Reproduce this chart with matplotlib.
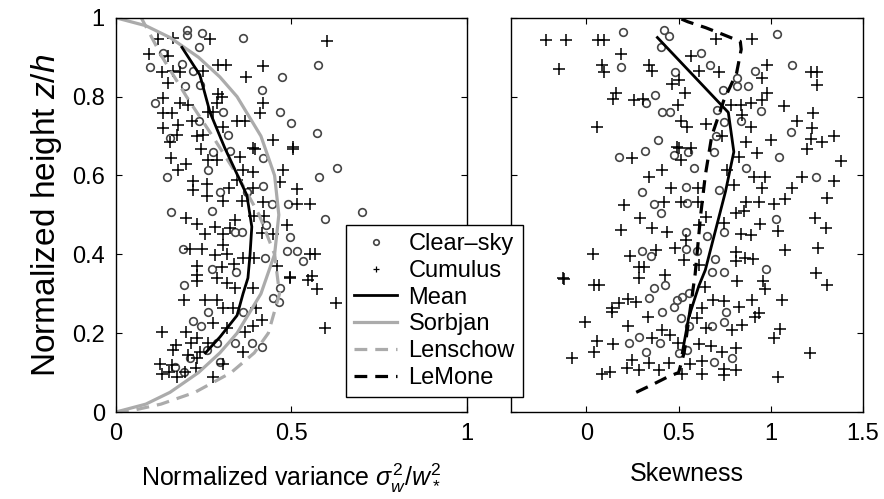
import matplotlib
matplotlib.use("Agg")
from matplotlib import pyplot as plt
from matplotlib.lines import Line2D

plt.rcParams['font.family'] = ['Liberation Sans', 'DejaVu Sans']
plt.rcParams['mathtext.fontset'] = 'custom'
plt.rcParams['mathtext.rm'] = 'Liberation Sans'
plt.rcParams['mathtext.it'] = 'Liberation Sans:italic'
plt.rcParams['font.size'] = 17

# normalized vertical velocity variance vs z/h
clear_var = [0.201, 0.201, 0.244, 0.363, 0.237, 0.135, 0.097, 0.187, 0.220, 0.576,
             0.474, 0.239, 0.197, 0.417, 0.111, 0.467, 0.306, 0.236, 0.500, 0.320,
             0.572, 0.154, 0.277, 0.325, 0.146, 0.263, 0.631, 0.578, 0.420, 0.418,
             0.296, 0.372, 0.444, 0.491, 0.156, 0.273, 0.595, 0.700, 0.427, 0.339,
             0.358, 0.496, 0.192, 0.515, 0.486, 0.425, 0.534, 0.273, 0.342, 0.194,
             0.263, 0.220, 0.241, 0.467, 0.465, 0.448, 0.361, 0.260, 0.287, 0.339,
             0.387, 0.415, 0.211, 0.168, 0.194, 0.296]
clear_var_z = [0.970, 0.957, 0.961, 0.950, 0.926, 0.910, 0.876, 0.882, 0.865, 0.881,
               0.849, 0.830, 0.826, 0.816, 0.784, 0.762, 0.762, 0.739, 0.734, 0.703,
               0.707, 0.695, 0.659, 0.661, 0.597, 0.614, 0.620, 0.597, 0.644, 0.573,
               0.559, 0.559, 0.527, 0.527, 0.507, 0.510, 0.490, 0.508, 0.475, 0.456,
               0.456, 0.445, 0.414, 0.409, 0.409, 0.390, 0.382, 0.363, 0.355, 0.321,
               0.253, 0.231, 0.217, 0.314, 0.280, 0.289, 0.253, 0.157, 0.174, 0.174,
               0.174, 0.166, 0.136, 0.115, 0.101, 0.126]

cum_var = [0.121, 0.163, 0.268, 0.600, 0.095, 0.149, 0.130, 0.163, 0.182, 0.291,
           0.313, 0.420, 0.370, 0.149, 0.249, 0.291, 0.301, 0.135, 0.420, 0.182,
           0.206, 0.287, 0.410, 0.135, 0.159, 0.263, 0.277, 0.178, 0.216, 0.135,
           0.344, 0.367, 0.306, 0.173, 0.230, 0.249, 0.446, 0.154, 0.503, 0.391,
           0.156, 0.199, 0.178, 0.263, 0.287, 0.242, 0.396, 0.503, 0.353, 0.477,
           0.391, 0.363, 0.220, 0.258, 0.323, 0.344, 0.467, 0.515, 0.220, 0.258,
           0.306, 0.358, 0.391, 0.420, 0.515, 0.554, 0.199, 0.232, 0.339, 0.393,
           0.422, 0.254, 0.282, 0.306, 0.325, 0.415, 0.448, 0.486, 0.211, 0.244,
           0.306, 0.282, 0.317, 0.361, 0.393, 0.553, 0.567, 0.232, 0.301, 0.336,
           0.458, 0.496, 0.558, 0.230, 0.230, 0.287, 0.315, 0.339, 0.391, 0.496,
           0.548, 0.572, 0.627, 0.595, 0.194, 0.254, 0.287, 0.306, 0.334, 0.400,
           0.415, 0.391, 0.130, 0.199, 0.232, 0.277, 0.315, 0.367, 0.171, 0.213,
           0.163, 0.263, 0.361, 0.206, 0.232, 0.125, 0.159, 0.228, 0.306, 0.130,
           0.152, 0.173, 0.197, 0.277, 0.239]
cum_var_z = [0.946, 0.948, 0.947, 0.941, 0.909, 0.902, 0.862, 0.865, 0.862, 0.880,
             0.880, 0.877, 0.849, 0.834, 0.865, 0.808, 0.800, 0.796, 0.784, 0.784,
             0.779, 0.784, 0.758, 0.758, 0.758, 0.762, 0.762, 0.728, 0.737, 0.720,
             0.739, 0.739, 0.724, 0.703, 0.699, 0.703, 0.690, 0.686, 0.673, 0.671,
             0.644, 0.629, 0.614, 0.640, 0.640, 0.668, 0.668, 0.668, 0.646, 0.614,
             0.608, 0.614, 0.586, 0.578, 0.569, 0.589, 0.583, 0.566, 0.563, 0.547,
             0.535, 0.535, 0.569, 0.534, 0.527, 0.527, 0.493, 0.476, 0.487, 0.498,
             0.498, 0.451, 0.470, 0.451, 0.468, 0.453, 0.451, 0.475, 0.414, 0.414,
             0.424, 0.398, 0.400, 0.390, 0.390, 0.400, 0.400, 0.370, 0.367, 0.375,
             0.370, 0.343, 0.346, 0.348, 0.332, 0.339, 0.327, 0.314, 0.314, 0.339,
             0.335, 0.312, 0.276, 0.214, 0.284, 0.284, 0.284, 0.263, 0.263, 0.263,
             0.234, 0.217, 0.204, 0.204, 0.187, 0.225, 0.212, 0.202, 0.170, 0.174,
             0.157, 0.174, 0.151, 0.145, 0.138, 0.121, 0.119, 0.112, 0.121, 0.096,
             0.102, 0.090, 0.102, 0.090, 0.153]

# mean and reference profiles of variance
mean_var = [0.255, 0.296, 0.345, 0.362, 0.376, 0.382, 0.387, 0.373, 0.310, 0.268, 0.239, 0.188]
mean_var_z = [0.150, 0.190, 0.245, 0.300, 0.340, 0.400, 0.470, 0.550, 0.670, 0.760, 0.855, 0.925]

sorbjan_z = [0.0, 0.02, 0.05, 0.10, 0.15, 0.20, 0.30, 0.40, 0.50, 0.60, 0.70, 0.80, 0.85, 0.90, 0.95, 0.98, 1.0]
sorbjan = [0.0, 0.085, 0.154, 0.235, 0.296, 0.345, 0.413, 0.452, 0.464, 0.452, 0.413, 0.345, 0.296, 0.235, 0.154, 0.085, 0.0]

lenschow_z = [0.0, 0.005, 0.02, 0.05, 0.10, 0.15, 0.20, 0.30, 0.40, 0.50, 0.60, 0.70, 0.80, 0.90, 1.0]
lenschow = [0.0, 0.052, 0.128, 0.225, 0.328, 0.394, 0.434, 0.466, 0.452, 0.408, 0.346, 0.275, 0.201, 0.132, 0.072]

# skewness vs z/h
clear_skw = [0.197, 0.420, 0.447, 0.402, 1.036, 0.623, 0.188, 0.480, 0.668, 0.915,
             1.118, 0.815, 0.879, 0.819, 0.741, 0.371, 0.321, 0.411, 0.451, 0.710,
             0.946, 0.746, 0.837, 0.705, 1.109, 0.390, 0.179, 0.317, 0.475, 0.553,
             0.692, 0.583, 0.864, 1.045, 1.245, 0.299, 0.538, 0.719, 0.366, 0.402,
             0.547, 1.031, 0.538, 0.656, 0.746, 0.303, 0.348, 0.538, 0.602, 0.697,
             0.973, 0.683, 0.746, 0.366, 0.426, 0.339, 0.493, 0.520, 0.556, 0.475,
             0.408, 0.511, 0.755, 0.746, 0.683, 0.556, 0.284, 0.230, 0.397, 0.321,
             0.502, 0.547, 0.692, 0.788]
clear_skw_z = [0.965, 0.970, 0.955, 0.925, 0.959, 0.912, 0.876, 0.862, 0.881, 0.865,
               0.881, 0.847, 0.826, 0.826, 0.817, 0.805, 0.784, 0.761, 0.762, 0.767,
               0.764, 0.735, 0.739, 0.701, 0.710, 0.690, 0.646, 0.661, 0.651, 0.659,
               0.659, 0.620, 0.620, 0.646, 0.597, 0.559, 0.572, 0.563, 0.527, 0.504,
               0.530, 0.490, 0.456, 0.447, 0.456, 0.409, 0.397, 0.414, 0.409, 0.388,
               0.363, 0.356, 0.355, 0.315, 0.321, 0.290, 0.284, 0.293, 0.301, 0.267,
               0.253, 0.239, 0.253, 0.229, 0.217, 0.217, 0.191, 0.174, 0.174, 0.151,
               0.149, 0.157, 0.126, 0.136]

cum_skw = [-0.219, -0.109, 0.061, 0.094, 0.705, 0.900, 0.185, 0.565, -0.150, 0.085,
           0.094, 0.342, 0.357, 0.610, 0.719, 0.982, 0.951, 1.217, 1.254, 1.254,
           0.502, 0.466, 0.533, 0.158, 0.143, 0.257, 0.306, 0.496, 0.982, 0.955,
           1.072, 1.230, 0.058, 0.511, 0.547, 0.647, 0.783, 0.837, 0.891, 0.846,
           0.891, 1.145, 1.223, 1.000, 1.217, 1.281, 1.344, 0.737, 0.864, 0.502,
           0.565, 0.245, 0.511, 0.493, 0.828, 0.928, 1.199, 1.380, 0.411, 0.339,
           0.765, 0.909, 0.969, 1.168, 1.344, 0.457, 0.607, 0.801, 0.951, 1.118,
           0.203, 0.420, 0.511, 0.607, 0.864, 0.936, 1.018, 1.078, 1.308, 0.293,
           0.647, 0.810, 0.855, 1.241, 0.185, 0.353, 0.438, 0.610, 0.746, 0.940,
           1.042, 1.303, 0.837, 0.891, 0.538, 0.034, 0.234, 0.379, 0.480, 0.529,
           0.810, 0.860, 0.904, 1.078, 1.259, -0.129, 0.284, 0.311, 0.426, 0.610,
           0.810, 1.248, -0.123, 0.040, 0.067, 0.284, 0.643, 0.819, 0.958, 0.969,
           1.308, 0.136, 0.136, 0.176, 0.226, 0.270, 0.629, 0.686, 0.746, 0.828,
           0.900, 1.060, 0.936, 0.915, -0.009, 0.226, 0.335, 0.602, 0.647, 0.792,
           0.842, 1.049, 1.018, 0.411, 0.451, 0.357, 0.058, 0.143, 0.040, 0.498,
           0.610, 0.674, 0.737, 0.810, -0.078, 0.248, 0.342, 0.447, 0.560, 0.625,
           1.212, 0.221, 0.284, 0.393, 0.629, 0.746, 0.810, 0.085, 0.125, 0.520,
           1.042, 0.746]
cum_skw_z = [0.944, 0.944, 0.944, 0.944, 0.947, 0.947, 0.908, 0.902, 0.871, 0.881,
             0.862, 0.881, 0.865, 0.865, 0.862, 0.880, 0.847, 0.862, 0.862, 0.830,
             0.843, 0.832, 0.809, 0.809, 0.794, 0.792, 0.794, 0.779, 0.809, 0.792,
             0.777, 0.758, 0.722, 0.739, 0.722, 0.730, 0.779, 0.779, 0.784, 0.754,
             0.724, 0.739, 0.720, 0.690, 0.693, 0.686, 0.699, 0.699, 0.686, 0.671,
             0.671, 0.644, 0.640, 0.673, 0.648, 0.657, 0.668, 0.637, 0.614, 0.597,
             0.614, 0.597, 0.597, 0.597, 0.586, 0.568, 0.569, 0.576, 0.568, 0.568,
             0.524, 0.532, 0.534, 0.534, 0.532, 0.532, 0.527, 0.541, 0.542, 0.492,
             0.494, 0.504, 0.511, 0.492, 0.462, 0.468, 0.456, 0.475, 0.479, 0.476,
             0.458, 0.468, 0.451, 0.449, 0.437, 0.400, 0.397, 0.411, 0.417, 0.386,
             0.405, 0.390, 0.388, 0.411, 0.415, 0.339, 0.369, 0.369, 0.348, 0.373,
             0.382, 0.352, 0.338, 0.322, 0.322, 0.341, 0.318, 0.332, 0.332, 0.312,
             0.322, 0.263, 0.253, 0.276, 0.287, 0.280, 0.263, 0.284, 0.282, 0.267,
             0.284, 0.284, 0.250, 0.242, 0.229, 0.219, 0.242, 0.238, 0.212, 0.208,
             0.221, 0.211, 0.187, 0.208, 0.195, 0.189, 0.179, 0.172, 0.153, 0.174,
             0.172, 0.168, 0.153, 0.162, 0.136, 0.132, 0.124, 0.124, 0.121, 0.129,
             0.149, 0.111, 0.107, 0.107, 0.096, 0.109, 0.107, 0.096, 0.102, 0.096,
             0.090, 0.094]

mean_skw = [0.520, 0.555, 0.610, 0.645, 0.700, 0.755, 0.800, 0.770, 0.385]
mean_skw_z = [0.150, 0.240, 0.320, 0.360, 0.460, 0.560, 0.660, 0.760, 0.950]

lemone = [0.27, 0.36, 0.445, 0.50, 0.53, 0.56, 0.59, 0.62, 0.645, 0.68, 0.745, 0.815, 0.84, 0.835, 0.745, 0.647, 0.55, 0.50]
lemone_z = [0.05, 0.07, 0.09, 0.10, 0.15, 0.25, 0.35, 0.50, 0.60, 0.70, 0.79, 0.86, 0.92, 0.94, 0.957, 0.975, 0.99, 1.0]

circ = dict(ls='none', marker='o', mfc='none', mec='#454545', ms=5.5, mew=1.2)
plus = dict(ls='none', marker='+', color='k', ms=8, mew=1.1)
grey = '#ababab'

fig = plt.figure(figsize=(8.84, 4.99), dpi=100)
ax1 = fig.add_axes([0.1312, 0.1743, 0.397, 0.790])
ax2 = fig.add_axes([0.578, 0.1743, 0.398, 0.790])

ax1.plot(clear_var, clear_var_z, **circ)
ax1.plot(cum_var, cum_var_z, **plus)
ax1.plot(sorbjan, sorbjan_z, color=grey, lw=2.3)
ax1.plot(lenschow, lenschow_z, color=grey, lw=2.3, dashes=(4, 2.5))
ax1.plot(mean_var, mean_var_z, color='k', lw=2)

ax2.plot(clear_skw, clear_skw_z, **circ)
ax2.plot(cum_skw, cum_skw_z, **plus)
ax2.plot(mean_skw, mean_skw_z, color='k', lw=2)
ax2.plot(lemone, lemone_z, color='k', lw=2.3, dashes=(4, 2.5))

ax1.set_xlim(0, 1)
ax1.set_ylim(0, 1)
ax1.set_xticks([0, 0.5, 1])
ax1.set_xticklabels(['0', '0.5', '1'])
ax1.set_yticks([0, 0.2, 0.4, 0.6, 0.8, 1])
ax1.set_yticklabels(['0', '0.2', '0.4', '0.6', '0.8', '1'])
ax1.set_xlabel(r'Normalized variance $\sigma_w^2/w_*^2$', fontsize=18, labelpad=12)
ax1.set_ylabel(r'Normalized height $z/h$', fontsize=24, labelpad=6)

ax2.set_xlim(-0.41, 1.5)
ax2.set_ylim(0, 1)
ax2.set_xticks([0, 0.5, 1, 1.5])
ax2.set_xticklabels(['0', '0.5', '1', '1.5'])
ax2.set_yticks([0, 0.2, 0.4, 0.6, 0.8, 1])
ax2.set_yticklabels([])
ax2.set_xlabel('Skewness', fontsize=18, labelpad=12)

for ax in (ax1, ax2):
    ax.tick_params(direction='in', top=True, right=True, length=4, width=0.8,
                   pad=8, labelsize=17)
    for s in ax.spines.values():
        s.set_linewidth(1.0)

handles = [
    Line2D([], [], ls='none', marker='o', mfc='none', mec='#454545', ms=4, mew=1.2),
    Line2D([], [], ls='none', marker='+', color='k', ms=5, mew=0.9),
    Line2D([], [], color='k', lw=2),
    Line2D([], [], color=grey, lw=2.3),
    Line2D([], [], color=grey, lw=2.3, dashes=(4, 2.5)),
    Line2D([], [], color='k', lw=2.3, dashes=(4, 2.5)),
]
labels = ['Clear\u2013sky', 'Cumulus', 'Mean', 'Sorbjan', 'Lenschow', 'LeMone']
fig.legend(handles, labels, loc='upper left', bbox_to_anchor=(0.3914, 0.549),
           borderaxespad=0, fancybox=False, edgecolor='k', framealpha=1,
           labelspacing=0.2, handlelength=1.8, handletextpad=0.5,
           borderpad=0.35, fontsize=17)

fig.savefig('out.png', dpi=100)
